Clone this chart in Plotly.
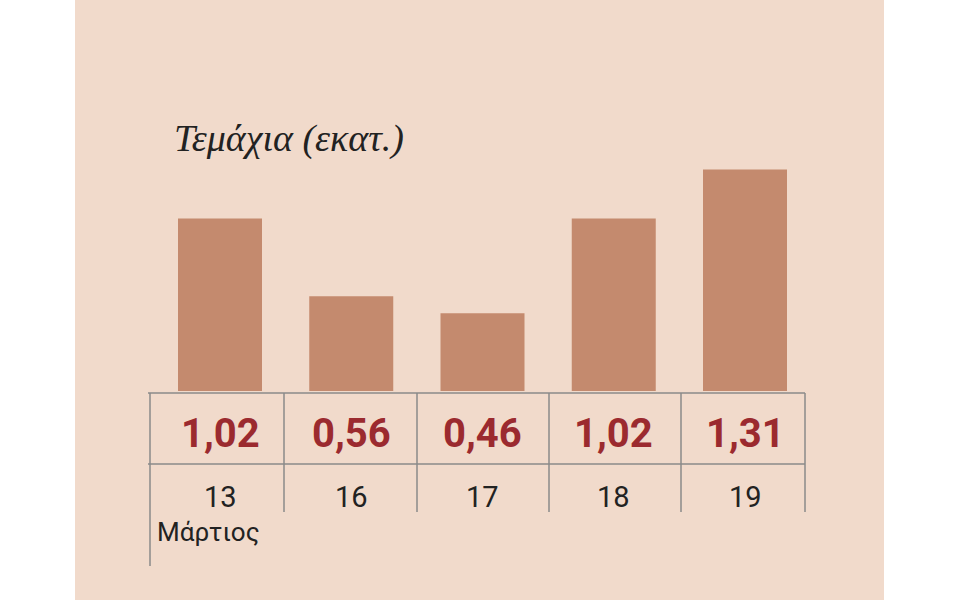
import plotly.graph_objects as go

days = ["13", "16", "17", "18", "19"]
values = [1.02, 0.56, 0.46, 1.02, 1.31]
labels = ["1,02", "0,56", "0,46", "1,02", "1,31"]
title = "Τεμάχια (εκατ.)"
month = "Μάρτιος"

W, H = 960, 600
step = 131.25
c0 = 220
xr = [-c0 / step, (W - c0) / step]
ppu = 169.0
zero = 391
yr = [-(H - zero) / ppu, zero / ppu]

xs = list(range(len(days)))
fig = go.Figure()
fig.add_trace(go.Bar(x=xs, y=values, width=0.64, marker=dict(color="#C48A6E", line_width=0),
                     hoverinfo="skip"))

def px(x):
    return x / W
def py(y):
    return 1 - y / H

shapes = [dict(type="rect", xref="paper", yref="paper", x0=px(75), x1=px(884), y0=0, y1=1,
               fillcolor="#F1DACB", line_width=0, layer="below")]
lc = dict(color="#8A8A8A", width=1.5)
for y in [393, 464]:
    shapes.append(dict(type="line", xref="paper", yref="paper", x0=px(148), x1=px(805), y0=py(y), y1=py(y), line=lc))
for x in [284, 417, 549, 681, 805]:
    shapes.append(dict(type="line", xref="paper", yref="paper", x0=px(x), x1=px(x), y0=py(393), y1=py(512), line=lc))
shapes.append(dict(type="line", xref="paper", yref="paper", x0=px(150), x1=px(150), y0=py(393), y1=py(566), line=lc))

ann = []
for i, (lab, d) in enumerate(zip(labels, days)):
    ann.append(dict(x=i, y=(zero - 433) / ppu, xref="x", yref="y", text=lab, showarrow=False,
                    font=dict(family="Roboto", size=40, color="#9B2A2F", weight=700)))
    ann.append(dict(x=i, y=(zero - 497) / ppu, xref="x", yref="y", text=d, showarrow=False,
                    font=dict(family="Roboto", size=29, color="#222222")))
ann.append(dict(x=px(155), y=py(549), xref="paper", yref="paper", text=month, showarrow=False,
                xanchor="left", font=dict(family="Roboto", size=26, color="#222222")))
ann.append(dict(x=px(172), y=py(115), xref="paper", yref="paper", text=title, showarrow=False,
                xanchor="left", font=dict(family="Liberation Serif", size=38, color="#222222", style="italic")))

fig.update_layout(width=W, height=H, margin=dict(l=0, r=0, t=0, b=0), paper_bgcolor="white",
                  plot_bgcolor="rgba(0,0,0,0)", showlegend=False, shapes=shapes, annotations=ann,
                  xaxis=dict(range=xr, visible=False, fixedrange=True),
                  yaxis=dict(range=yr, visible=False, fixedrange=True))
fig.write_html("out.html", config={"displayModeBar": False})
with open("out.html", encoding="utf-8") as f:
    html = f.read()
html = html.replace("<body>", '<body style="margin:0;padding:0;overflow:hidden">', 1)
with open("out.html", "w", encoding="utf-8") as f:
    f.write(html)
